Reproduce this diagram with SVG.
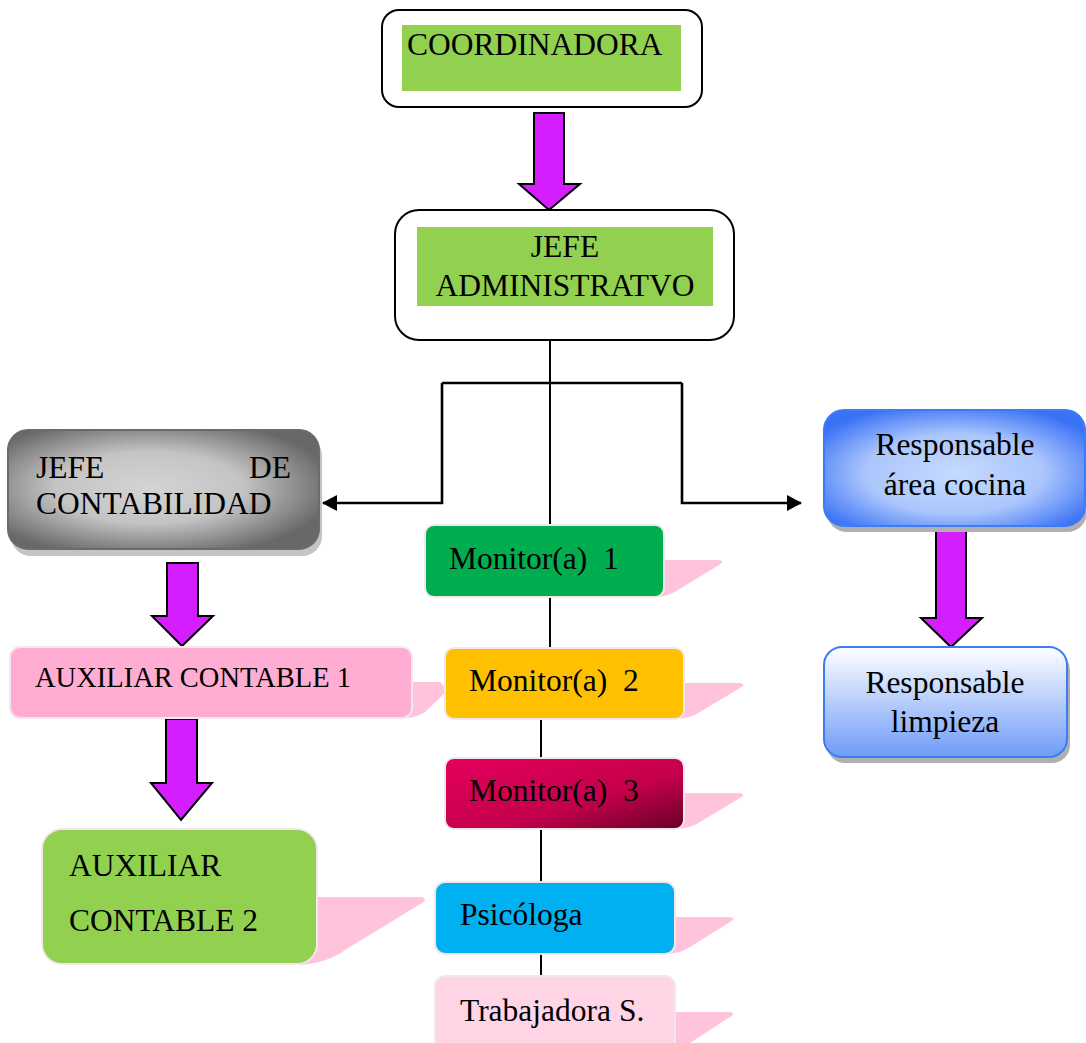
<svg xmlns="http://www.w3.org/2000/svg" width="1086" height="1043" viewBox="0 0 1086 1043">
<defs>
<style>
text{font-family:"Liberation Serif","Times New Roman",serif;font-size:31.5px;fill:#000}
.mid{text-anchor:middle}
.frame{fill:#fff;stroke:#000;stroke-width:2}
.green{fill:#92d050}
.arrow{fill:#d51eff;stroke:#000;stroke-width:2;stroke-linejoin:miter}
.sh{fill:#ffc4dc}
.card{stroke:#f1e8ee;stroke-width:2}
.conn{fill:none;stroke:#000;stroke-width:2}
.br{fill:none;stroke:#000;stroke-width:2.6}
</style>
<radialGradient id="gGray" cx="45%" cy="50%" r="60%" gradientTransform="rotate(20 0.5 0.5)">
<stop offset="0" stop-color="#d4d4d4"/>
<stop offset="0.5" stop-color="#c4c4c4"/>
<stop offset="1" stop-color="#686868"/>
</radialGradient>
<radialGradient id="gBlue" cx="50%" cy="55%" r="62%">
<stop offset="0" stop-color="#c6daff"/>
<stop offset="0.55" stop-color="#abc6fc"/>
<stop offset="1" stop-color="#3a72f6"/>
</radialGradient>
<linearGradient id="gBlue2" x1="0" y1="0" x2="0" y2="1">
<stop offset="0" stop-color="#ffffff"/>
<stop offset="1" stop-color="#6e9bf7"/>
</linearGradient>
<linearGradient id="gRed" x1="0" y1="0" x2="1" y2="1">
<stop offset="0" stop-color="#e6005c"/>
<stop offset="0.6" stop-color="#c4004c"/>
<stop offset="1" stop-color="#680028"/>
</linearGradient>
<marker id="ah" markerWidth="15" markerHeight="16" refX="14" refY="8" orient="auto" markerUnits="userSpaceOnUse" viewBox="0 0 15 16">
<path d="M0,0 L15,8 L0,16 Z" fill="#000"/>
</marker>
</defs>

<!-- pink shadow shapes -->
<g id="shadows">
<path class="sh" d="M655,560 L718,560 Q726,561 719,565 L678,590 Q668,597 655,597 Z"/>
<path class="sh" d="M405,682 L440,682 L448,690 L425,712 Q416,718 405,718 Z"/>
<path class="sh" d="M675,683 L739,683 Q747,684 740,688 L700,712 Q690,719 675,719 Z"/>
<path class="sh" d="M675,793 L739,793 Q747,794 740,798 L700,822 Q690,829 675,829 Z"/>
<path class="sh" d="M310,897 L420,897 Q429,898 422,903 L345,950 Q330,962 300,965 Z"/>
<path class="sh" d="M665,917 L729,917 Q737,918 730,922 L690,947 Q680,954 665,954 Z"/>
<path class="sh" d="M665,1012 L729,1012 Q737,1013 730,1017 L690,1043 L665,1043 Z"/>
</g>

<!-- connectors -->
<g id="connectors">
<line class="conn" x1="550" y1="340" x2="550" y2="525"/>
<line class="conn" x1="550" y1="597" x2="550" y2="648"/>
<line class="conn" x1="541" y1="719" x2="541" y2="758"/>
<line class="conn" x1="541" y1="829" x2="541" y2="882"/>
<line class="conn" x1="541" y1="954" x2="541" y2="976"/>
<path class="br" d="M442,383 L682,383"/>
<path class="br" d="M442,383 L442,503 L323,503" marker-end="url(#ah)"/>
<path class="br" d="M682,383 L682,503 L801,503" marker-end="url(#ah)"/>
<path class="arrow" d="M534,113 L564,113 L564,184 L580,184 L549,210 L519,184 L534,184 Z"/>
<path class="arrow" d="M167,563 L198,563 L198,616 L213,616 L182,646 L152,616 L167,616 Z"/>
<path class="arrow" d="M166,719 L197,719 L197,783 L212,783 L181,820 L151,783 L166,783 Z"/>
<path class="arrow" d="M936,529 L966,529 L966,618 L982,618 L951,647 L921,618 L936,618 Z"/>
</g>

<g id="coordinadora">
<rect class="frame" x="382" y="10" width="320" height="97" rx="17"/>
<rect class="green" x="402" y="25" width="279" height="66"/>
<text x="407" y="55">COORDINADORA</text>
</g>

<g id="jefe-administrativo">
<rect class="frame" x="395" y="210" width="339" height="130" rx="24"/>
<rect class="green" x="417" y="227" width="296" height="79"/>
<text class="mid" x="565" y="257">JEFE</text>
<text class="mid" x="565" y="296">ADMINISTRATVO</text>
</g>

<g id="jefe-contabilidad">
<rect x="11" y="436" width="311" height="120" rx="20" fill="#c4c4c4"/>
<rect x="8" y="430" width="311" height="119" rx="20" fill="url(#gGray)" stroke="#6b6b6b" stroke-width="2"/>
<text x="36" y="478">JEFE</text>
<text x="291" y="478" text-anchor="end">DE</text>
<text x="36" y="514">CONTABILIDAD</text>
</g>

<g id="auxiliar-contable-1">
<rect class="card" x="10" y="647" width="402" height="71" rx="10" fill="#ffadd2"/>
<text x="35" y="687" style="font-size:28.5px">AUXILIAR CONTABLE 1</text>
</g>

<g id="auxiliar-contable-2">
<rect class="card" x="42" y="829" width="275" height="135" rx="20" fill="#92d050"/>
<text x="69" y="876">AUXILIAR</text>
<text x="69" y="931">CONTABLE 2</text>
</g>

<g id="monitor-1">
<rect class="card" x="425" y="525" width="239" height="72" rx="9" fill="#00ae50"/>
<text x="449" y="569">Monitor(a)&#160; 1</text>
</g>

<g id="monitor-2">
<rect class="card" x="445" y="648" width="239" height="71" rx="9" fill="#ffc000"/>
<text x="469" y="691">Monitor(a)&#160; 2</text>
</g>

<g id="monitor-3">
<rect class="card" x="445" y="758" width="239" height="71" rx="9" fill="url(#gRed)"/>
<text x="469" y="801">Monitor(a)&#160; 3</text>
</g>

<g id="psicologa">
<rect class="card" x="435" y="882" width="240" height="72" rx="10" fill="#00b0f0"/>
<text x="460" y="925">Psicóloga</text>
</g>

<g id="trabajadora">
<rect class="card" x="435" y="976" width="240" height="80" rx="10" fill="#ffd5e6"/>
<text x="460" y="1021">Trabajadora S.</text>
</g>

<g id="responsable-cocina">
<rect x="827" y="415" width="260" height="117" rx="20" fill="#b0b0b0"/>
<rect x="824" y="410" width="261" height="116" rx="20" fill="url(#gBlue)" stroke="#3c7cf5" stroke-width="2"/>
<text class="mid" x="955" y="455">Responsable</text>
<text class="mid" x="955" y="495">área cocina</text>
</g>

<g id="responsable-limpieza">
<rect x="827" y="652" width="243" height="111" rx="18" fill="#b0b0b0"/>
<rect x="824" y="647" width="243" height="110" rx="18" fill="url(#gBlue2)" stroke="#3c7cf5" stroke-width="2"/>
<text class="mid" x="945" y="693">Responsable</text>
<text class="mid" x="945" y="732">limpieza</text>
</g>
</svg>
